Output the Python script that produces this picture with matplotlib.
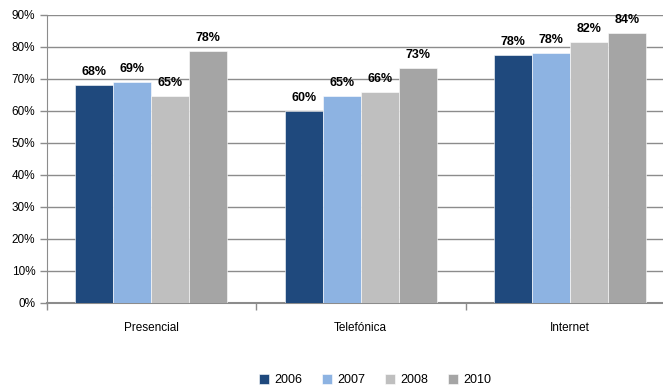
import matplotlib
matplotlib.use("Agg")
import matplotlib.pyplot as plt
import numpy as np

categories = ["Presencial", "Telefónica", "Internet"]
years = ["2006", "2007", "2008", "2010"]
values = {
    "2006": [68.0, 60.0, 77.5],
    "2007": [68.9, 64.7, 77.9],
    "2008": [64.7, 65.8, 81.6],
    "2010": [78.7, 73.3, 84.2],
}
labels = {
    "2006": ["68%", "60%", "78%"],
    "2007": ["69%", "65%", "78%"],
    "2008": ["65%", "66%", "82%"],
    "2010": ["78%", "73%", "84%"],
}
colors = {"2006": "#1F497D", "2007": "#8DB3E2", "2008": "#BFBFBF", "2010": "#A5A5A5"}
yticks = [0, 10, 20, 30, 40, 50, 60, 70, 80, 90]

plt.rcParams['font.family'] = ['Liberation Sans Narrow', 'Liberation Sans', 'DejaVu Sans']

fig = plt.figure(figsize=(6.63, 3.92), dpi=100)
W, H = 663, 392
left, right = 46.5, 46.5 + 3 * 209.5
top, bottom = 14.7, 302.7
ax = fig.add_axes([left / W, (H - bottom) / H, (right - left) / W, (bottom - top) / H])

x = np.arange(len(categories))
bw = 38 / 209.5
for i, yr in enumerate(years):
    pos = x + (i - 1.5) * bw
    bars = ax.bar(pos, values[yr], width=bw, color=colors[yr], edgecolor='white', linewidth=0.4,
                  label=yr, zorder=3)
    for b, lab in zip(bars, labels[yr]):
        ax.annotate(lab, (b.get_x() + b.get_width() / 2, b.get_height()),
                    xytext=(0, 5), textcoords='offset points', ha='center', va='bottom',
                    fontsize=9, fontweight='bold', color='black')

ax.set_xlim(-0.5, 2.5)
ax.set_ylim(0, 90)
ax.set_yticks(yticks)
ax.set_yticklabels([f"{v}%" for v in yticks], fontsize=8.5)
ax.yaxis.grid(True, color='#8C8C8C', linewidth=1.0, zorder=0)
ax.set_axisbelow(True)
ax.set_xticks(x)
ax.set_xticklabels(categories, fontsize=8.5)
ax.tick_params(axis='x', length=0, pad=14)
ax.set_xticks([-0.5, 0.5, 1.5], minor=True)
ax.tick_params(axis='x', which='minor', length=5, color='#8C8C8C', width=1)
ax.tick_params(axis='y', length=5, color='#8C8C8C', width=1, pad=3)
for s in ['top', 'right']:
    ax.spines[s].set_visible(False)
ax.spines['left'].set_color('#8C8C8C')
ax.spines['bottom'].set_color('#8C8C8C')
ax.spines['bottom'].set_linewidth(1.5)

handles, labs = ax.get_legend_handles_labels()
fig.legend(handles, labs, loc='center', bbox_to_anchor=(375 / W, (H - 380) / H), ncol=4,
           frameon=False, fontsize=9, handlelength=0.8, handleheight=0.8,
           handletextpad=0.4, columnspacing=1.6)

fig.savefig("out.png", dpi=100)
